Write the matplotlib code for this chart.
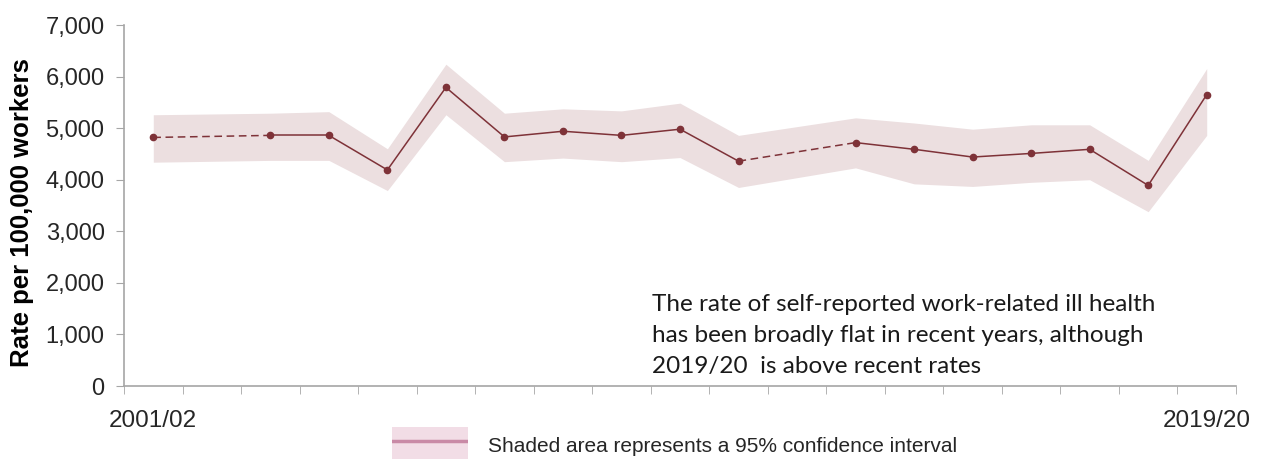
import numpy as np
import matplotlib.pyplot as plt

years = ['2001/02', '2002/03', '2003/04', '2004/05', '2005/06', '2006/07', '2007/08',
         '2008/09', '2009/10', '2010/11', '2011/12', '2012/13', '2013/14', '2014/15',
         '2015/16', '2016/17', '2017/18', '2018/19', '2019/20']
rate = [4820, np.nan, 4860, 4860, 4190, 5790, 4830, 4940, 4860, 4980, 4360, np.nan,
        4720, 4590, 4440, 4510, 4590, 3890, 5650]
ci_low = [4340, np.nan, 4375, 4375, 3790, 5260, 4350, 4420, 4350, 4430, 3850, np.nan,
          4230, 3920, 3870, 3950, 4000, 3380, 4860]
ci_high = [5260, np.nan, 5290, 5320, 4600, 6240, 5290, 5375, 5335, 5485, 4860, np.nan,
           5200, 5100, 4980, 5065, 5065, 4375, 6155]

line_col = '#7e3238'
band_col = '#ecdfe0'

plt.rcParams['font.family'] = ['Liberation Sans', 'DejaVu Sans']

x = np.arange(len(years))
r = np.array(rate, dtype=float)
lo = np.array(ci_low, dtype=float)
hi = np.array(ci_high, dtype=float)
ok = ~np.isnan(r)

fig = plt.figure(figsize=(12.63, 4.59), dpi=100)
ax = fig.add_axes([0.0982, 0.159, 0.8804, 0.7865])

ax.fill_between(x[ok], lo[ok], hi[ok], color=band_col, lw=0, zorder=1)

# dashed across gaps, solid elsewhere
xv = x[ok]
rv = r[ok]
for i in range(len(xv) - 1):
    ls = '--' if xv[i + 1] - xv[i] > 1 else '-'
    ax.plot(xv[i:i + 2], rv[i:i + 2], color=line_col, lw=1.1, ls=ls,
            dashes=(5, 3) if ls == '--' else (None, None), zorder=2)
ax.plot(xv, rv, 'o', color=line_col, ms=4.5, zorder=3)

ax.set_xlim(-0.5, len(years) - 0.5)
ax.set_ylim(0, 7000)
ax.set_yticks(range(0, 7001, 1000))
ax.set_yticklabels([f'{v:,}' for v in range(0, 7001, 1000)], fontsize=17, color='#262626')
ax.set_xticks([0, len(years) - 1])
ax.set_xticklabels([years[0], years[-1]], fontsize=17.5, color='#262626')
ax.set_xticks(np.arange(-0.5, len(years), 1), minor=True)
ax.tick_params(axis='x', which='major', length=0, pad=17)
ax.tick_params(axis='x', which='minor', length=6, color='#a6a6a6')
ax.tick_params(axis='y', length=6, color='#a6a6a6', pad=8)

for s in ['top', 'right']:
    ax.spines[s].set_visible(False)
for s in ['left', 'bottom']:
    ax.spines[s].set_color('#a6a6a6')
    ax.spines[s].set_linewidth(1.2)

fig.text(22 / 1263, 1 - 213 / 459, 'Rate per 100,000 workers', rotation=90,
         fontsize=18.5, fontweight='bold', va='center', ha='center')

ax.text(0.475, 0.255,
        'The rate of self-reported work-related ill health\n'
        'has been broadly flat in recent years, although\n'
        '2019/20  is above recent rates',
        transform=ax.transAxes, fontsize=17.5, family=['Lato', 'DejaVu Sans'],
        linespacing=1.6, va='top', ha='left', color='#1a1a1a')

# legend swatch
lax = fig.add_axes([392 / 1263, 0, 76 / 1263, 32 / 459])
lax.set_xlim(0, 1)
lax.set_ylim(0, 1)
lax.axis('off')
lax.add_patch(plt.Rectangle((0, 0), 1, 1, color='#f2dde6', lw=0))
lax.plot([0, 1], [0.55, 0.55], color='#c98aa6', lw=2.5)
fig.text(488 / 1263, 1 - 446 / 459, 'Shaded area represents a 95% confidence interval',
         fontsize=15, va='center', ha='left', color='#262626')

fig.savefig('out.png', dpi=100)
